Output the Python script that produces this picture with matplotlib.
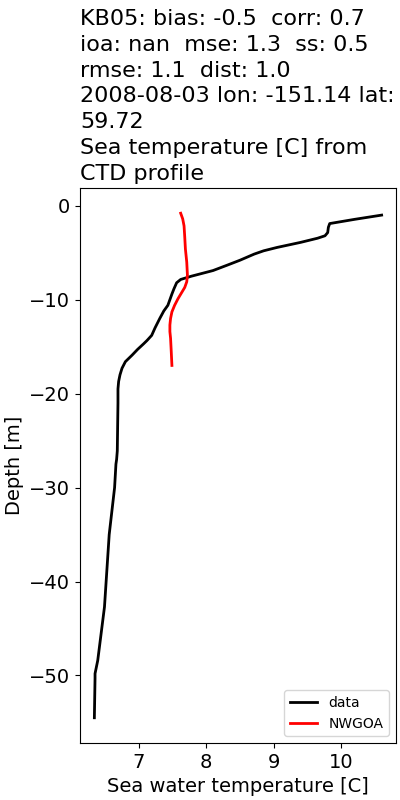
import matplotlib
matplotlib.use("Agg")
import matplotlib.pyplot as plt

data_temp = [10.60, 10.20, 9.83, 9.81, 9.80, 9.76, 9.65, 9.40, 9.05, 8.85, 8.71, 8.50,
             8.32, 8.10, 7.78, 7.62, 7.56, 7.52, 7.49, 7.43, 7.37, 7.31, 7.24, 7.19,
             7.12, 7.07, 6.98, 6.90, 6.80, 6.75, 6.72, 6.70, 6.69, 6.69, 6.68, 6.67,
             6.66, 6.64, 6.56, 6.49, 6.39, 6.35, 6.35, 6.34]
data_depth = [-1.0, -1.45, -1.9, -2.3, -2.86, -3.2, -3.46, -3.9, -4.44, -4.8, -5.15, -5.8,
              -6.3, -6.9, -7.5, -7.85, -8.2, -8.85, -9.4, -10.6, -11.2, -12.0, -13.0, -13.8,
              -14.35, -14.7, -15.3, -15.9, -16.6, -17.3, -18.0, -18.7, -19.5, -21.0, -26.1, -27.0,
              -27.5, -30.0, -35.0, -42.7, -48.4, -49.8, -50.3, -54.5]

model_temp = [7.62, 7.65, 7.67, 7.68, 7.69, 7.71, 7.72, 7.71, 7.68, 7.63, 7.58, 7.53,
              7.49, 7.47, 7.46, 7.46, 7.47, 7.48, 7.49]
model_depth = [-0.8, -1.4, -2.15, -3.3, -4.6, -6.0, -7.4, -8.1, -8.7, -9.3, -9.9, -10.6,
               -11.3, -12.0, -12.7, -13.4, -14.1, -15.5, -17.0]

title = ("KB05: bias: -0.5  corr: 0.7\n"
         "ioa: nan  mse: 1.3  ss: 0.5\n"
         "rmse: 1.1  dist: 1.0\n"
         "2008-08-03 lon: -151.14 lat:\n"
         "59.72\n"
         "Sea temperature [C] from\n"
         "CTD profile")

fig = plt.figure(figsize=(4, 8), dpi=100)
ax = fig.add_axes([0.2, 0.07125, 0.79, 0.69375])
ax.plot(data_temp, data_depth, color="black", lw=2, label="data")
ax.plot(model_temp, model_depth, color="red", lw=2, label="NWGOA")
ax.set_title(title, loc="left", fontsize=16, ha="left", linespacing=1.36)
ax.set_xlabel("Sea water temperature [C]", fontsize=14)
ax.set_ylabel("Depth [m]", fontsize=14)
ax.tick_params(labelsize=14)
ax.legend(loc="lower right", fontsize=10)
fig.savefig("out.png", dpi=100)
